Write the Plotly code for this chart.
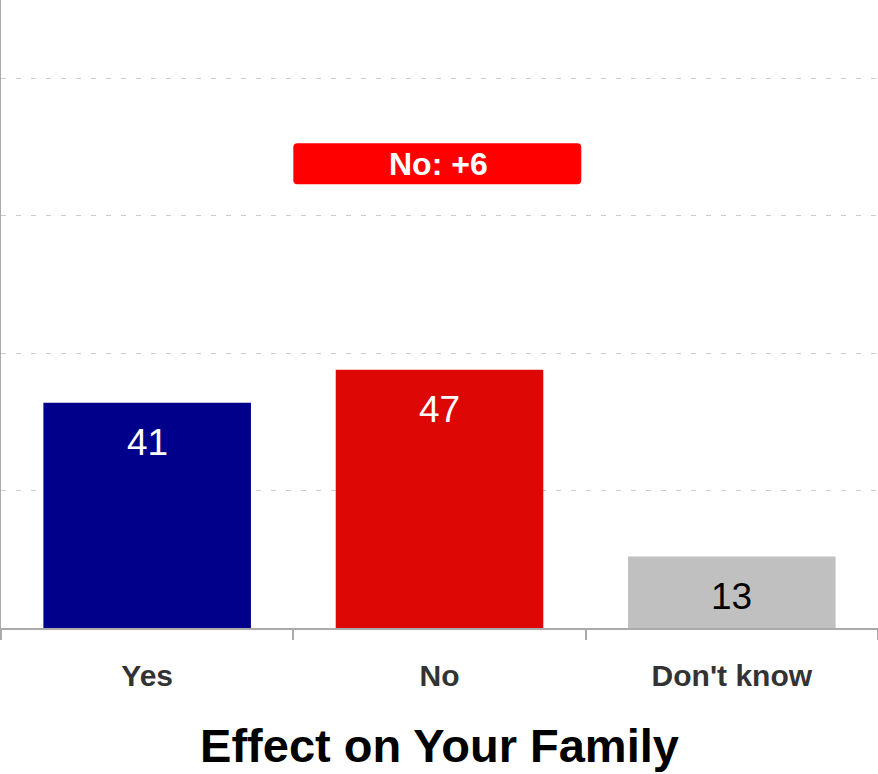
import plotly.graph_objects as go

categories = ["Yes", "No", "Don't know"]
values = [41, 47, 13]
bar_colors = ["#00008b", "#dd0806", "#c0c0c0"]
label_colors = ["white", "white", "black"]
lead_label = "No: +6"
lead_x = 1
lead_y = 84.5
y_ticks = [0, 25, 50, 75, 100]

fig = go.Figure()
fig.add_trace(go.Bar(
    x=categories, y=values, marker=dict(color=bar_colors, line=dict(width=0)),
    width=0.71, hoverinfo="skip",
))

for c, v, col in zip(categories, values, label_colors):
    fig.add_annotation(x=c, y=v, text=str(v), showarrow=False, yanchor="top",
                       yshift=-17, font=dict(family="Liberation Sans, Arial", size=37, color=col))

# rounded lead box
x0, x1 = lead_x - 0.5, lead_x + 0.485
y0, y1 = lead_y - 3.75, lead_y + 3.75
rx, ry = 0.014, 0.75
path = (f"M {x0+rx},{y0} L {x1-rx},{y0} Q {x1},{y0} {x1},{y0+ry} "
        f"L {x1},{y1-ry} Q {x1},{y1} {x1-rx},{y1} L {x0+rx},{y1} "
        f"Q {x0},{y1} {x0},{y1-ry} L {x0},{y0+ry} Q {x0},{y0} {x0+rx},{y0} Z")
fig.add_shape(type="path", path=path, xref="x", yref="y", fillcolor="#ff0000",
              line=dict(width=0), layer="above")
fig.add_annotation(x=lead_x - 0.005, y=lead_y, text=f"<b>{lead_label}</b>", showarrow=False,
                   yanchor="middle", font=dict(family="Liberation Sans, Arial", size=32, color="white"))

fig.update_layout(
    width=878, height=774, margin=dict(l=1, r=0, t=0, b=146),
    plot_bgcolor="white", paper_bgcolor="white", showlegend=False,
    bargap=0.29,
    xaxis=dict(
        range=[-0.5, 2.5], showline=True, linecolor="#aaaaaa", linewidth=2,
        ticks="outside", ticklen=10, tickwidth=2, tickcolor="#aaaaaa",
        tickson="boundaries", showgrid=False, automargin=False,
        tickfont=dict(family="Liberation Sans, Arial", size=30, color="#333333"),
        ticklabelstandoff=20,
        title=dict(text="<b>Effect on Your Family</b>", standoff=38,
                   font=dict(family="Liberation Sans, Arial", size=47, color="black")),
    ),
    yaxis=dict(
        range=[0, 114.3], tickvals=y_ticks, showticklabels=False,
        showline=True, linecolor="#aaaaaa", linewidth=2, automargin=False,
        showgrid=True, gridcolor="#cccccc", gridwidth=1, griddash="5px,10px",
        zeroline=False,
    ),
)
fig.update_xaxes(tickprefix="<b>", ticksuffix="</b>")
fig.write_html("out.html", config={"displayModeBar": False},
               post_script="document.body.style.margin='0';")
